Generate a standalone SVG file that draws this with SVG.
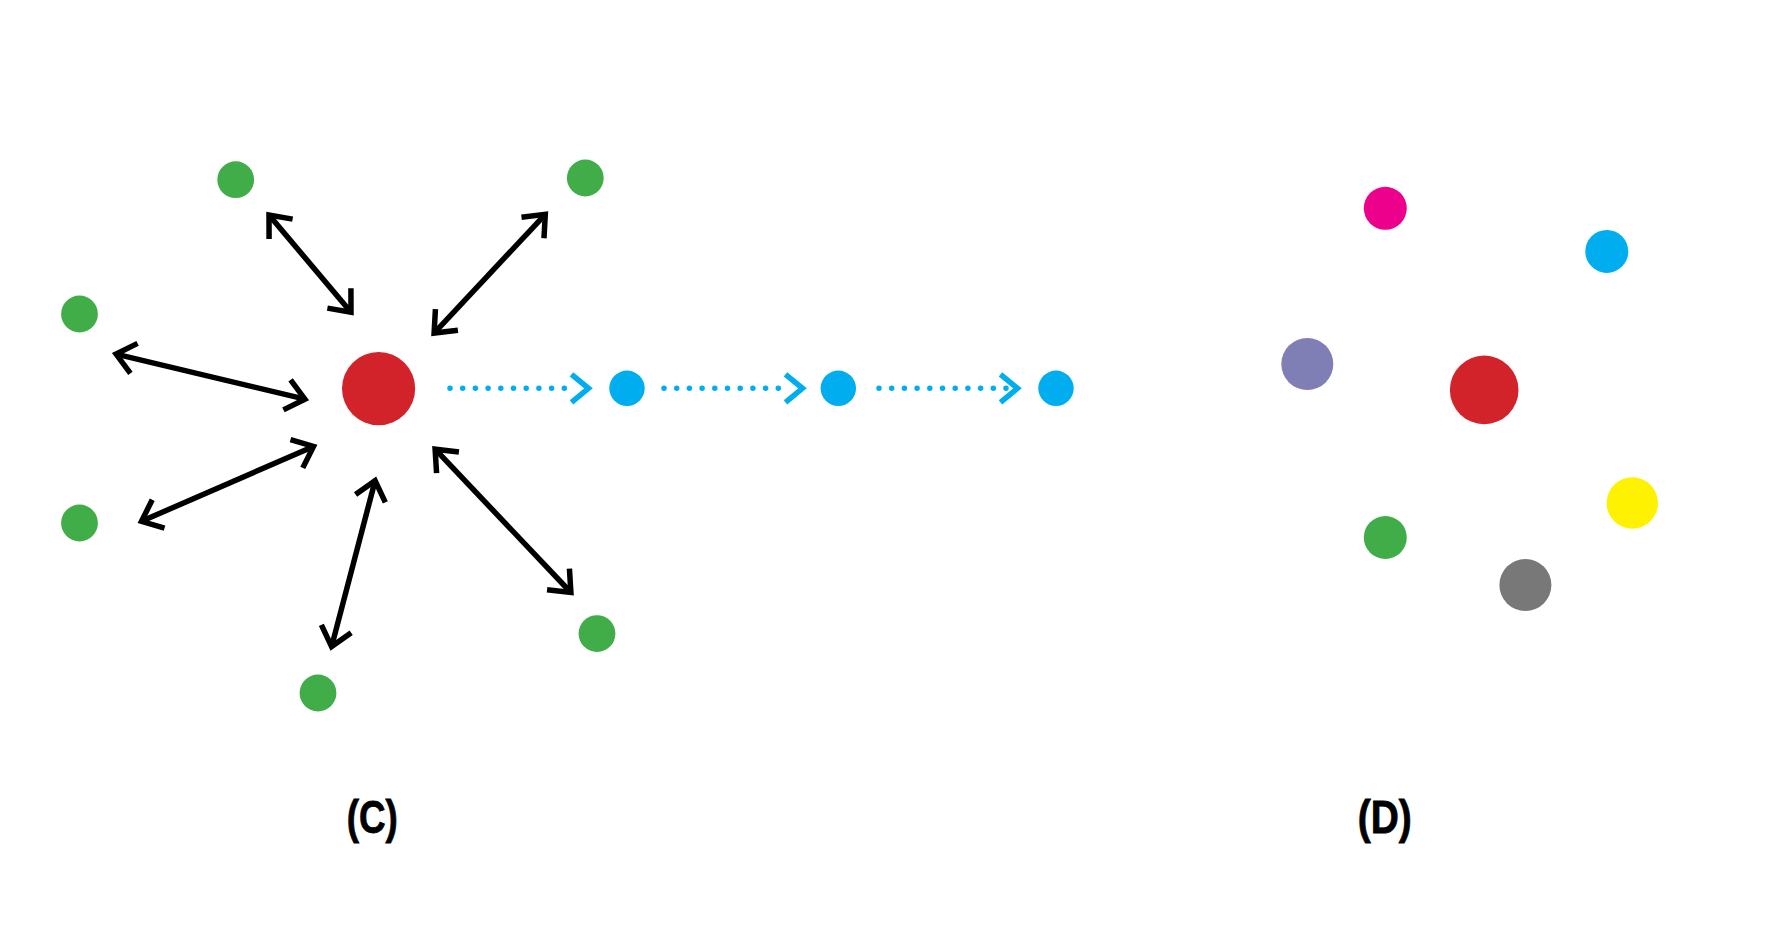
<svg xmlns="http://www.w3.org/2000/svg" width="1772" height="945" viewBox="0 0 1772 945">
  <style>
    .bk { stroke: #000000; stroke-width: 5.5; fill: none; stroke-linejoin: miter; stroke-miterlimit: 10; }
    .dot { stroke: #00AEEF; stroke-width: 5.5; fill: none; stroke-linecap: round; stroke-dasharray: 0 12.7; }
    .green { fill: #40AD48; }
    .red { fill: #D2232A; }
    .blue { fill: #00AEEF; }
    .label { font-family: "Liberation Sans", Arial, sans-serif; font-weight: bold; font-size: 46px; fill: #000000; text-anchor: middle; stroke: #000000; stroke-width: 0.8; }
  </style>
  <defs>
    <marker id="ah" markerUnits="userSpaceOnUse" orient="auto-start-reverse" refX="0" refY="0" markerWidth="60" markerHeight="60" viewBox="-30 -30 60 60" overflow="visible">
      <path d="M-18.4,-15.4 L0,0 L-18.4,15.4" fill="none" stroke="#000000" stroke-width="5.5" stroke-linejoin="miter"/>
    </marker>
    <marker id="chev" markerUnits="userSpaceOnUse" orient="auto" refX="0" refY="0" markerWidth="60" markerHeight="60" viewBox="-30 -30 60 60" overflow="visible">
      <path d="M-5.5,-14 L11.5,0 L-5.5,14" fill="none" stroke="#00AEEF" stroke-width="5.5" stroke-linejoin="miter"/>
    </marker>
  </defs>
  <rect x="0" y="0" width="1772" height="945" fill="#FFFFFF"/>

  <g id="connectors">
    <line class="bk" x1="269" y1="215" x2="351" y2="312.3" marker-start="url(#ah)" marker-end="url(#ah)"/>
    <line class="bk" x1="545.3" y1="214.3" x2="434.1" y2="333.1" marker-start="url(#ah)" marker-end="url(#ah)"/>
    <line class="bk" x1="116.1" y1="354.1" x2="304.9" y2="399.2" marker-start="url(#ah)" marker-end="url(#ah)"/>
    <line class="bk" x1="141.5" y1="521.3" x2="313.5" y2="446.4" marker-start="url(#ah)" marker-end="url(#ah)"/>
    <line class="bk" x1="331.6" y1="646.6" x2="375.1" y2="480.7" marker-start="url(#ah)" marker-end="url(#ah)"/>
    <line class="bk" x1="435.1" y1="449.2" x2="570.9" y2="592.5" marker-start="url(#ah)" marker-end="url(#ah)"/>
    <line class="dot" x1="450" y1="388.3" x2="577" y2="388.3" marker-end="url(#chev)"/>
    <line class="dot" x1="664" y1="388.3" x2="791" y2="388.3" marker-end="url(#chev)"/>
    <line class="dot" x1="879" y1="388.3" x2="1006" y2="388.3" marker-end="url(#chev)"/>
  </g>

  <g id="c-center"><circle class="red" cx="378.6" cy="388.6" r="36.6"/></g>
  <g id="c-green-1"><circle class="green" cx="235.7" cy="179.7" r="18.4"/></g>
  <g id="c-green-2"><circle class="green" cx="585.3" cy="178" r="18.4"/></g>
  <g id="c-green-3"><circle class="green" cx="79.5" cy="314" r="18.4"/></g>
  <g id="c-green-4"><circle class="green" cx="79.5" cy="523" r="18.4"/></g>
  <g id="c-green-5"><circle class="green" cx="318" cy="693" r="18.4"/></g>
  <g id="c-green-6"><circle class="green" cx="597" cy="633.6" r="18.4"/></g>
  <g id="c-blue-1"><circle class="blue" cx="627" cy="388.3" r="17.7"/></g>
  <g id="c-blue-2"><circle class="blue" cx="838.3" cy="388.3" r="17.7"/></g>
  <g id="c-blue-3"><circle class="blue" cx="1056" cy="388.3" r="17.7"/></g>

  <g id="d-magenta"><circle cx="1385.3" cy="208.3" r="21.5" fill="#EC008C"/></g>
  <g id="d-cyan"><circle cx="1606.8" cy="251.4" r="21.5" fill="#00AEEF"/></g>
  <g id="d-purple"><circle cx="1307.3" cy="364" r="26" fill="#7F7FB5"/></g>
  <g id="d-center"><circle cx="1484.2" cy="389.9" r="34.3" fill="#D2232A"/></g>
  <g id="d-yellow"><circle cx="1632.3" cy="503" r="25.7" fill="#FFF200"/></g>
  <g id="d-green"><circle cx="1385.3" cy="537.5" r="21.5" fill="#40AD48"/></g>
  <g id="d-gray"><circle cx="1525.4" cy="585" r="26" fill="#787878"/></g>

  <g id="label-c"><text class="label" x="372.3" y="833" textLength="51" lengthAdjust="spacingAndGlyphs">(C)</text></g>
  <g id="label-d"><text class="label" x="1384.7" y="833" textLength="54" lengthAdjust="spacingAndGlyphs">(D)</text></g>
</svg>
